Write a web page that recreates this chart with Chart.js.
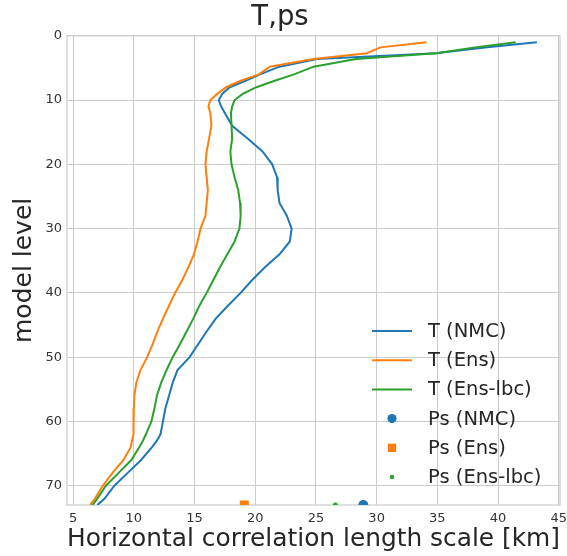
<!DOCTYPE html>
<html>
<head>
<meta charset="utf-8">
<script src="https://cdn.jsdelivr.net/npm/chart.js@4.4.0/dist/chart.umd.min.js"></script>
<style>
    html, body { margin: 0; padding: 0; background: #ffffff; }
    #grafico { display: block; }
</style>
</head>
<body>
<canvas id="grafico" width="567" height="556"></canvas>
<script>
// niveis do modelo (eixo y) e escalas de correlacao
const niveis = [1, 1.8, 2.7, 3.6, 4.8, 6, 7, 8, 9, 10, 11, 12,
    14, 16, 18, 20, 22, 24, 26, 28, 30, 32, 34, 36, 38, 40, 42, 44, 46, 48, 50, 52, 54, 56, 58, 60,
    62, 63, 64, 66, 68, 70, 72, 73];

const tNMC = [43.2, 39.1, 34.9, 25.1, 22.0, 20.4, 19.2, 17.9, 17.3, 17.0, 17.2, 17.5,
    18.1, 19.4, 20.6, 21.4, 21.8, 21.85, 22.0, 22.6, 23.0, 22.85, 22.0, 20.8, 19.75, 18.8, 17.75, 16.75, 16.0, 15.3, 14.6, 13.6, 13.2, 12.9, 12.6, 12.4,
    12.2, 11.9, 11.5, 10.6, 9.5, 8.4, 7.6, 7.0];

const tEns = [34.1, 30.3, 29.2, 24.8, 21.2, 20.3, 18.8, 17.6, 16.9, 16.3, 16.15, 16.3,
    16.4, 16.2, 16.0, 15.9, 16.0, 16.1, 16.0, 15.9, 15.5, 15.25, 14.95, 14.5, 14.0, 13.4, 12.9, 12.4, 11.95, 11.55, 11.1, 10.55, 10.2, 10.05, 10.0, 10.0,
    9.95, 9.85, 9.75, 9.15, 8.25, 7.45, 6.8, 6.4];

const tEnsLbc = [41.45, 38.1, 34.9, 28.3, 24.8, 23.2, 21.6, 20.1, 19.0, 18.3, 18.1, 18.0,
    18.05, 18.1, 17.95, 18.05, 18.3, 18.6, 18.75, 18.8, 18.7, 18.3, 17.7, 17.1, 16.55, 16.0, 15.4, 14.9, 14.35, 13.8, 13.2, 12.7, 12.25, 11.9, 11.7, 11.45,
    11.0, 10.75, 10.45, 9.8, 8.75, 7.7, 7.0, 6.6];

const tNomes = ['T (NMC)', 'T (Ens)', 'T (Ens-lbc)'];
const psNomes = ['Ps (NMC)', 'Ps (Ens)', 'Ps (Ens-lbc)'];
const psValores = [28.9, 19.1, 26.6];
const psNivel = 73;

const ticksX = [5, 10, 15, 20, 25, 30, 35, 40, 45];
const ticksY = [0, 10, 20, 30, 40, 50, 60, 70];

const FONTE = "'DejaVu Sans', sans-serif";

function montarPerfil(valores) {
    return valores.map((v, i) => ({ x: v, y: niveis[i] }));
}

function linhaT(indice, valores, cor, ordem) {
    return {
        label: tNomes[indice],
        data: montarPerfil(valores),
        showLine: true,
        borderColor: cor,
        backgroundColor: cor,
        borderWidth: 2,
        pointRadius: 0,
        tension: 0,
        order: ordem
    };
}

function pontoPs(indice, cor, estilo, raio, ordem) {
    return {
        label: psNomes[indice],
        data: [{ x: psValores[indice], y: psNivel }],
        showLine: false,
        pointStyle: estilo,
        pointRadius: raio,
        pointBackgroundColor: cor,
        pointBorderWidth: 0,
        backgroundColor: cor,
        borderColor: cor,
        order: ordem
    };
}

// moldura cinza em volta da area do grafico
const moldura = {
    id: 'moldura',
    beforeDatasetsDraw(chart) {
        const { ctx, chartArea: a } = chart;
        ctx.save();
        ctx.strokeStyle = '#cccccc';
        ctx.lineWidth = 1.25;
        ctx.strokeRect(a.left, a.top, a.right - a.left, a.bottom - a.top);
        ctx.restore();
    }
};

// legenda desenhada dentro da area, canto inferior direito
const legendaDentro = {
    id: 'legendaDentro',
    afterDraw(chart) {
        const { ctx, chartArea: a } = chart;
        const xLinha = a.right - 188;
        const xTexto = a.right - 132;
        const y0 = a.bottom - 174;
        const passo = 29.2;

        ctx.save();
        ctx.font = '19.5px ' + FONTE;
        ctx.textBaseline = 'middle';
        ctx.textAlign = 'left';

        chart.data.datasets.forEach((ds, i) => {
            const y = y0 + i * passo;
            if (ds.showLine) {
                ctx.strokeStyle = ds.borderColor;
                ctx.lineWidth = 2;
                ctx.beginPath();
                ctx.moveTo(xLinha, y);
                ctx.lineTo(xLinha + 40, y);
                ctx.stroke();
            } else {
                const cx = xLinha + 20;
                ctx.fillStyle = ds.pointBackgroundColor;
                if (ds.pointStyle === 'rect') {
                    ctx.fillRect(cx - 4.2, y - 4.2, 8.4, 8.4);
                } else {
                    const r = ds.pointRadius >= 4 ? 4.6 : 2.2;
                    ctx.beginPath();
                    ctx.arc(cx, y, r, 0, Math.PI * 2);
                    ctx.fill();
                }
            }
            ctx.fillStyle = '#262626';
            ctx.fillText(ds.label, xTexto, y + 1);
        });
        ctx.restore();
    }
};

new Chart(document.getElementById('grafico'), {
    type: 'scatter',
    data: {
        datasets: [
            linhaT(0, tNMC, '#1f77b4', 6),
            linhaT(1, tEns, '#ff7f0e', 5),
            linhaT(2, tEnsLbc, '#2ca02c', 4),
            pontoPs(0, '#1f77b4', 'circle', 5, 3),
            pontoPs(1, '#ff7f0e', 'rect', 6.4, 2),
            pontoPs(2, '#2ca02c', 'circle', 2.5, 1)
        ]
    },
    options: {
        responsive: false,
        animation: false,
        devicePixelRatio: 1,
        layout: { padding: { left: 0, right: 7, top: 0, bottom: 0 } },
        plugins: {
            legend: { display: false },
            tooltip: { enabled: false },
            title: {
                display: true,
                text: 'T,ps',
                color: '#262626',
                font: { family: FONTE, size: 27.5, weight: 'normal' },
                padding: { top: 1.5, bottom: 1.3 }
            }
        },
        scales: {
            x: {
                type: 'linear',
                min: 4.5,
                max: 45.1,
                afterBuildTicks: (s) => { s.ticks = ticksX.map(v => ({ value: v })); },
                afterFit: (s) => { s.height = 51; s.paddingLeft = 0; s.paddingRight = 0; },
                grid: { color: '#cccccc', lineWidth: 1, drawTicks: false },
                border: { display: false },
                ticks: {
                    color: '#333333',
                    font: { family: FONTE, size: 13 },
                    padding: 6,
                    maxRotation: 0,
                    autoSkip: false
                },
                title: {
                    display: true,
                    text: 'Horizontal correlation length scale [km]',
                    color: '#262626',
                    font: { family: FONTE, size: 25 },
                    padding: { top: 0, bottom: 1.5 }
                }
            },
            y: {
                type: 'linear',
                reverse: true,
                min: 0,
                max: 73,
                afterBuildTicks: (s) => { s.ticks = ticksY.map(v => ({ value: v })); },
                afterFit: (s) => { s.width = 67; s.paddingTop = 0; s.paddingBottom = 0; },
                grid: { color: '#cccccc', lineWidth: 1, drawTicks: false },
                border: { display: false },
                ticks: {
                    color: '#333333',
                    font: { family: FONTE, size: 13 },
                    padding: 5,
                    autoSkip: false
                },
                title: {
                    display: true,
                    text: 'model level',
                    color: '#262626',
                    font: { family: FONTE, size: 25 },
                    padding: { top: 9.4, bottom: 0 }
                }
            }
        }
    },
    plugins: [moldura, legendaDentro]
});
</script>
</body>
</html>
